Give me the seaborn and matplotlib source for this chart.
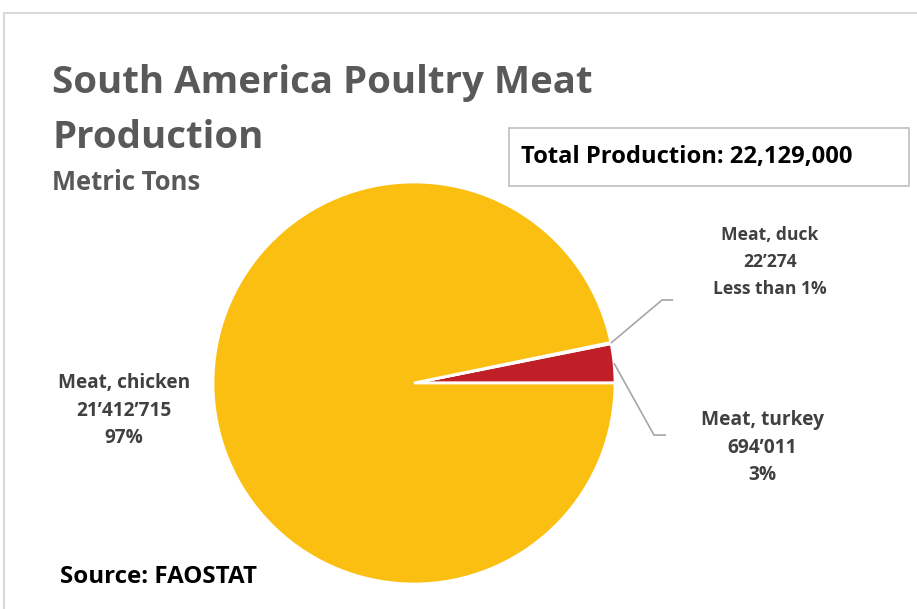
import matplotlib.pyplot as plt
import matplotlib.patches as mpatches
import seaborn as sns
import numpy as np

# data
categories = ['Meat, turkey', 'Meat, duck', 'Meat, chicken']
tonnes = [694011, 22274, 21412715]
colors = ['#C01F28', '#C01F28', '#FBBF12']

title = 'South America Poultry Meat\nProduction'
subtitle = 'Metric Tons'
source = 'Source: FAOSTAT'

sns.set_theme(style='white')
plt.rcParams['font.family'] = ['Open Sans', 'DejaVu Sans']

W, H = 917, 609
fig = plt.figure(figsize=(W / 100, H / 100), dpi=100)
fig.patch.set_facecolor('white')
renderer = fig.canvas.get_renderer()


def fit(txt, width_px):
    # shrink/grow font so the text spans roughly the reference width
    bb = txt.get_window_extent(renderer)
    txt.set_fontsize(txt.get_fontsize() * width_px / bb.width)
    return txt


# light chart frame (cropped on right / bottom)
fig.add_artist(mpatches.Rectangle((3.5 / W, -0.05), 1.1, 1 - 12.5 / H + 0.05,
                                  transform=fig.transFigure, fill=False,
                                  edgecolor='#d9d9d9', linewidth=1.5))

# pie axes: centre (414, 383), radius 201 px
cx, cy, r = 414, 383, 201
ax = fig.add_axes([(cx - r) / W, (H - cy - r) / H, 2 * r / W, 2 * r / H])
wedges, _ = ax.pie(tonnes, colors=colors, startangle=0, counterclock=True,
                   wedgeprops=dict(edgecolor='white', linewidth=2))
ax.set_xlim(-1, 1)
ax.set_ylim(-1, 1)
ax.axis('off')

total = sum(tonnes)


def fmt(v):
    return f'{v:,}'.replace(',', '\u2019')


def pct(v):
    p = v / total * 100
    return 'Less than 1%' if p < 1 else f'{p:.0f}%'


labels = [f'{c}\n{fmt(v)}\n{pct(v)}' for c, v in zip(categories, tonnes)]

label_kw = dict(ha='center', va='center', fontsize=13, fontweight='bold',
                color='#404040')

# leader line elbows / text spots (data units of the pie axes)
elbows = {0: ((1.194, -0.259), 1.254), 1: ((1.234, 0.413), 1.289)}
text_pos = {0: (1.734, -0.322), 1: (1.771, 0.602), 2: (-1.443, -0.137)}
label_width = {0: 122, 1: 113, 2: 131}

for i, w in enumerate(wedges):
    if i in elbows:
        ang = np.deg2rad((w.theta1 + w.theta2) / 2)
        x0, y0 = np.cos(ang), np.sin(ang)
        (ex, ey), hx = elbows[i]
        ax.plot([x0, ex, hx], [y0, ey, ey], color='#a6a6a6', lw=1.2,
                clip_on=False, solid_capstyle='butt')
    tx, ty = text_pos[i]
    t = fit(ax.text(tx, ty, labels[i], clip_on=False, **label_kw), label_width[i])
    # keep ~28.5 px between label lines, as in the reference
    t.set_linespacing(28.5 / (t.get_fontsize() * 100 / 72))

# titles
line1, line2 = title.split('\n')
t1 = fit(fig.text(52 / W, 1 - 93 / H, line1, ha='left', va='baseline',
                  fontsize=26, fontweight='bold', color='#595959'), 542)
fig.text(52 / W, 1 - 148 / H, line2, ha='left', va='baseline',
         fontsize=t1.get_fontsize(), fontweight='bold', color='#595959')
fit(fig.text(52 / W, 1 - 190 / H, subtitle, ha='left', va='baseline',
             fontsize=16, fontweight='bold', color='#595959'), 149)

# total box
fig.add_artist(mpatches.Rectangle((509 / W, 1 - 186 / H), 400 / W, 58 / H,
                                  transform=fig.transFigure, fill=False,
                                  edgecolor='#bfbfbf', linewidth=1.2))
fit(fig.text(521 / W, 1 - 157 / H, f'Total Production: {total:,}', ha='left',
             va='center', fontsize=15, fontweight='bold', color='black'), 332)

fit(fig.text(60 / W, 1 - 577 / H, source, ha='left', va='center', fontsize=15,
             fontweight='bold', color='black'), 198)

fig.savefig('out.png', dpi=100, facecolor='white')
